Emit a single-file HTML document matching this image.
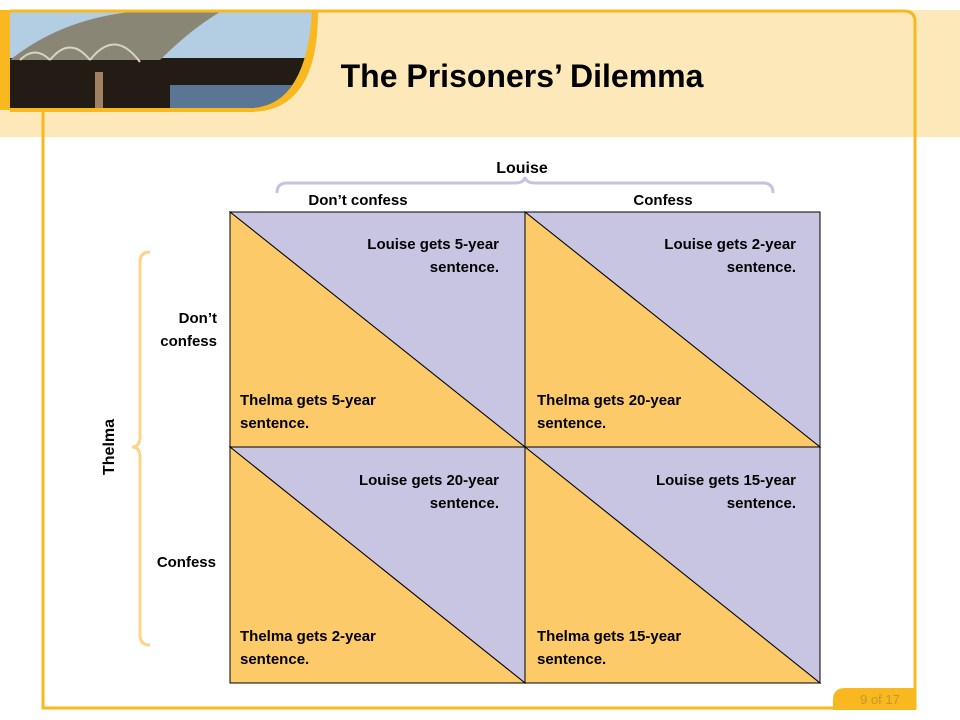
<!DOCTYPE html>
<html><head><style>
body{margin:0;width:960px;height:720px;overflow:hidden;background:#fff;font-family:"Liberation Sans",sans-serif;}
</style></head><body>
<svg width="960" height="720" xmlns="http://www.w3.org/2000/svg" style="position:absolute;left:0;top:0">
<rect x="0" y="10" width="960" height="127" fill="#fde8ba"/>
<rect x="0" y="10" width="10" height="100" fill="#f9b81f"/>
<path d="M10 12 H318 Q318 112 250 112 H10 Z" fill="#f9b81f"/>
<defs><clipPath id="c"><path d="M10 12 H312 Q306 108 248 108 H10 Z"/></clipPath></defs>
<g clip-path="url(#c)">
<rect x="10" y="12" width="310" height="100" fill="#b3cde2"/>
<rect x="10" y="58" width="310" height="50" fill="#231c14"/>
<rect x="170" y="85" width="150" height="25" fill="#5b7594"/>
<path d="M10 60 Q60 20 130 12 L220 12 Q190 30 160 60 Z" fill="#8a8676"/>
<path d="M20 60 Q35 45 50 60 M50 60 Q70 35 90 60 M90 60 Q115 28 140 62" stroke="#d8d4c4" stroke-width="2" fill="none"/>
<rect x="95" y="72" width="8" height="36" fill="#a08060"/>
</g>
<path d="M10 11 H904 Q915 11 915 22 V708 H43 V110" fill="none" stroke="#f9b81f" stroke-width="3"/>
<path d="M833 708 V700 Q833 688 845 688 H916 V710 H833 Z" fill="#f9b81f"/>
<text x="880" y="704" font-size="13" fill="#c8962a" text-anchor="middle">9 of 17</text>
<text x="522" y="87" font-size="32" font-weight="bold" text-anchor="middle" fill="#000">The Prisoners’ Dilemma</text>
<text x="522" y="173" font-size="16" font-weight="bold" text-anchor="middle">Louise</text>
<path d="M277 193 Q277 183 287 183 H515 Q524 183 525 177 Q526 183 535 183 H763 Q773 183 773 193" fill="none" stroke="#c5c3e0" stroke-width="3"/>
<path d="M150 252 Q140 252 140 262 V437 Q140 447 132 447 Q140 447 140 457 V635 Q140 645 150 645" fill="none" stroke="#fbd58a" stroke-width="3"/>
<g stroke="#000" stroke-width="1">
<polygon points="230,212 525,212 525,447" fill="#c8c5e2"/><polygon points="230,212 230,447 525,447" fill="#fdca6a"/>
<polygon points="525,212 820,212 820,447" fill="#c8c5e2"/><polygon points="525,212 525,447 820,447" fill="#fdca6a"/>
<polygon points="230,447 525,447 525,683" fill="#c8c5e2"/><polygon points="230,447 230,683 525,683" fill="#fdca6a"/>
<polygon points="525,447 820,447 820,683" fill="#c8c5e2"/><polygon points="525,447 525,683 820,683" fill="#fdca6a"/>
<rect x="230" y="212" width="590" height="471" fill="none"/>
<line x1="525" y1="212" x2="525" y2="683"/><line x1="230" y1="447" x2="820" y2="447"/>
</g>
<g font-size="15" font-weight="bold" fill="#000">
<text x="358" y="205" text-anchor="middle">Don’t confess</text>
<text x="663" y="205" text-anchor="middle">Confess</text>
<text x="217" y="323" text-anchor="end">Don’t</text>
<text x="217" y="346" text-anchor="end">confess</text>
<text x="216" y="567" text-anchor="end">Confess</text>
<text transform="translate(114,447) rotate(-90)" text-anchor="middle" font-size="16">Thelma</text>
<g text-anchor="end">
<text x="499" y="249">Louise gets 5-year</text><text x="499" y="272">sentence.</text>
<text x="796" y="249">Louise gets 2-year</text><text x="796" y="272">sentence.</text>
<text x="499" y="485">Louise gets 20-year</text><text x="499" y="508">sentence.</text>
<text x="796" y="485">Louise gets 15-year</text><text x="796" y="508">sentence.</text>
</g>
<text x="240" y="405">Thelma gets 5-year</text><text x="240" y="428">sentence.</text>
<text x="537" y="405">Thelma gets 20-year</text><text x="537" y="428">sentence.</text>
<text x="240" y="641">Thelma gets 2-year</text><text x="240" y="664">sentence.</text>
<text x="537" y="641">Thelma gets 15-year</text><text x="537" y="664">sentence.</text>
</g>
</svg>
</body></html>
